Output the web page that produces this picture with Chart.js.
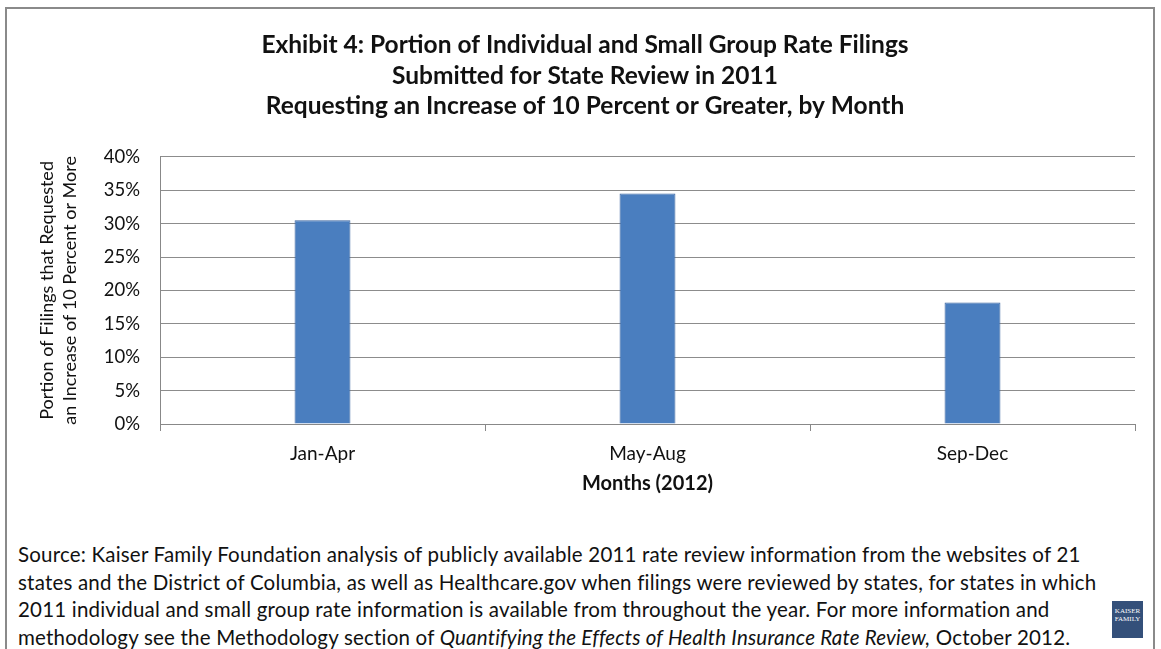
<!DOCTYPE html>
<html>
<head>
<meta charset="utf-8">
<script src="https://cdn.jsdelivr.net/npm/chart.js@4"></script>
<style>
  body { margin: 0; background: #fff; }
  #page { position: relative; width: 1161px; height: 649px; overflow: hidden; background: #fff; }
  #frame { position: absolute; left: 5px; top: 7px; width: 1150px; height: 700px; border: 2px solid #8a8a8a; box-sizing: border-box; }
  #chart-box { position: absolute; left: 0; top: 0; width: 1161px; height: 500px; }
  #source { position: absolute; left: 18px; top: 541px; width: 1130px; white-space: nowrap; font-family: Lato, "Open Sans", sans-serif; font-size: 20.5px; letter-spacing: 0.2px; line-height: 27.5px; color: #111; }
  #logo { position: absolute; left: 1112px; top: 601px; width: 31px; height: 37px; background: #34507a; color: #fff; font-family: "Liberation Serif", serif; font-size: 7px; line-height: 8px; text-align: center; padding-top: 6px; box-sizing: border-box; }
</style>
</head>
<body>
<div id="page">
  <div id="frame"></div>
  <div id="chart-box"><canvas id="rateChart" width="1161" height="500"></canvas></div>
  <div id="source">Source: Kaiser Family Foundation analysis of publicly available 2011 rate review information from the websites of 21<br>states and the District of Columbia, as well as Healthcare.gov when filings were reviewed by states, for states in which<br>2011 individual and small group rate information is available from throughout the year. For more information and<br>methodology see the Methodology section of <i>Quantifying the Effects of Health Insurance Rate Review,</i> October 2012.</div>
  <div id="logo">KAISER<br>FAMILY</div>
</div>
<script>
const months = ['Jan-Apr', 'May-Aug', 'Sep-Dec'];
const shareOver10 = [30.5, 34.5, 18.2];
const yTicks = [0, 5, 10, 15, 20, 25, 30, 35, 40];

const fontFamily = 'Lato, "Open Sans", sans-serif';

const ctx = document.getElementById('rateChart').getContext('2d');
new Chart(ctx, {
    type: 'bar',
    data: {
        labels: months,
        datasets: [{
            data: shareOver10,
            backgroundColor: '#4a7ebf',
            borderColor: '#3a64a0',
            borderWidth: 1,
            barPercentage: 0.172,
            categoryPercentage: 1
        }]
    },
    options: {
        responsive: false,
        animation: false,
        layout: { padding: { left: 35, right: 26, top: 0, bottom: 0 } },
        plugins: {
            legend: { display: false },
            tooltip: { enabled: false },
            title: {
                display: true,
                text: [
                    'Exhibit 4: Portion of Individual and Small Group Rate Filings',
                    'Submitted for State Review in 2011',
                    'Requesting an Increase of 10 Percent or Greater, by Month'
                ],
                color: '#111',
                font: { family: fontFamily, size: 24.5, weight: 'bold', lineHeight: 1.25 },
                padding: { top: 30, bottom: 35 }
            }
        },
        scales: {
            x: {
                grid: { offset: true, drawOnChartArea: false, color: '#888', tickLength: 7 },
                border: { color: '#888' },
                ticks: { color: '#111', font: { family: fontFamily, size: 19 }, padding: 11 },
                title: {
                    display: true,
                    text: 'Months (2012)',
                    color: '#111',
                    font: { family: fontFamily, size: 20, weight: 'bold' },
                    padding: { top: 0 }
                },
                afterFit: s => { s.height = 76; }
            },
            y: {
                min: 0,
                max: 40,
                afterBuildTicks: s => { s.ticks = yTicks.map(v => ({ value: v })); },
                grid: { color: '#8c8c8c', drawTicks: false },
                border: { color: '#888' },
                ticks: {
                    color: '#111',
                    font: { family: fontFamily, size: 18.5 },
                    padding: 20,
                    callback: v => v + '%'
                },
                title: {
                    display: true,
                    text: ['Portion of Filings that Requested', 'an Increase of 10 Percent or More'],
                    color: '#111',
                    font: { family: fontFamily, size: 18, lineHeight: 1.28 },
                    padding: { top: 1, bottom: 0 }
                },
                afterFit: s => { s.width = 125; }
            }
        }
    }
});
</script>
</body>
</html>
